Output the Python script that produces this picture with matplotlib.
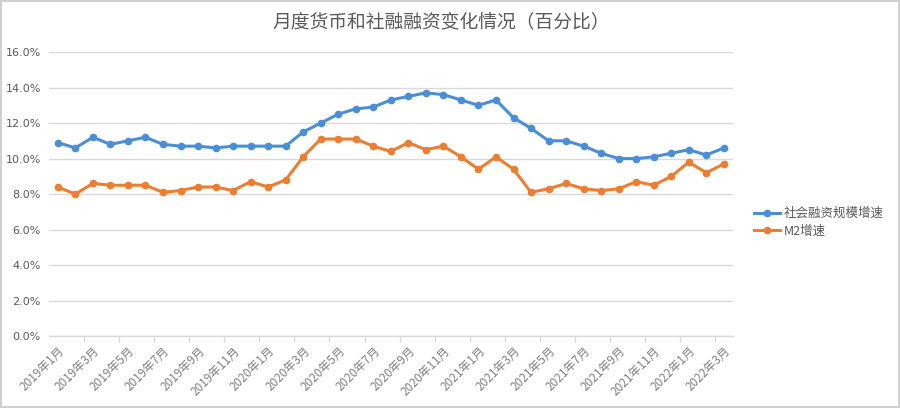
import matplotlib
matplotlib.use('Agg')
import matplotlib.pyplot as plt
import numpy as np

plt.rcParams['font.family'] = ['Noto Sans CJK SC', 'DejaVu Sans']

# * data (percent):
months = []
for y in range(2019, 2023):
    for m in range(1, 13):
        if y == 2022 and m > 3:
            break
        months.append('%d年%d月' % (y, m))

tsf_growth = [10.9, 10.6, 11.2, 10.8, 11.0, 11.2, 10.8, 10.7, 10.7, 10.6, 10.7, 10.7,
              10.7, 10.7, 11.5, 12.0, 12.5, 12.8, 12.9, 13.3, 13.5, 13.7, 13.6, 13.3,
              13.0, 13.3, 12.3, 11.7, 11.0, 11.0, 10.7, 10.3, 10.0, 10.0, 10.1, 10.3,
              10.5, 10.2, 10.6]
m2_growth = [8.4, 8.0, 8.6, 8.5, 8.5, 8.5, 8.1, 8.2, 8.4, 8.4, 8.2, 8.7,
             8.4, 8.8, 10.1, 11.1, 11.1, 11.1, 10.7, 10.4, 10.9, 10.5, 10.7, 10.1,
             9.4, 10.1, 9.4, 8.1, 8.3, 8.6, 8.3, 8.2, 8.3, 8.7, 8.5, 9.0,
             9.8, 9.2, 9.7]

title = '月度货币和社融融资变化情况（百分比）'
label_tsf = '社会融资规模增速'
label_m2 = 'M2增速'

# * styles
c_blue = '#4a8fd6'
c_orange = '#ed7d31'
c_grid = '#d9d9d9'
c_text = '#595959'

fig = plt.figure(figsize=(9, 4.08), dpi=100)
fig.patch.set_edgecolor('#d0d0d0')
fig.patch.set_linewidth(1.5)
ax = fig.add_axes([0.0545, 0.176, 0.7595, 0.6965])

x = np.arange(len(months))
ax.plot(x, tsf_growth, color=c_blue, linewidth=2.2, marker='o', markersize=4.5,
        label=label_tsf, zorder=3)
ax.plot(x, m2_growth, color=c_orange, linewidth=2.2, marker='o', markersize=4.5,
        label=label_m2, zorder=3)

ax.set_xlim(-0.5, len(months) - 0.5)
ax.set_ylim(0, 16)
ax.set_yticks(np.arange(0, 17, 2))
ax.set_yticklabels(['%.1f%%' % v for v in np.arange(0, 17, 2)],
                   fontsize=8, color=c_text, family='DejaVu Sans')
ax.grid(axis='y', color=c_grid, linewidth=1.0, zorder=0)
ax.set_axisbelow(True)

ax.set_xticks(x[::2])
ax.set_xticklabels(months[::2], rotation=45, ha='right', rotation_mode='anchor',
                   fontsize=8.5, color='#7f7f7f')
ax.set_xticks(np.arange(1.5, len(months), 2), minor=True)
ax.tick_params(axis='x', which='major', length=0, pad=6)
ax.tick_params(axis='x', which='minor', length=4, color=c_grid, width=1.0)
ax.tick_params(axis='y', length=0, pad=6)

for s in ['top', 'right', 'left']:
    ax.spines[s].set_visible(False)
ax.spines['bottom'].set_color(c_grid)
ax.spines['bottom'].set_linewidth(1.0)

fig.text(0.49, 0.945, title, ha='center', va='center', fontsize=13.5, color=c_text)

leg = fig.legend(loc='upper left', bbox_to_anchor=(0.832, 0.505), frameon=False,
                 fontsize=9, handlelength=2.1, handletextpad=0.3, labelspacing=0.35,
                 borderaxespad=0)
for t in leg.get_texts():
    t.set_color(c_text)

plt.savefig('out.png', dpi=100)
